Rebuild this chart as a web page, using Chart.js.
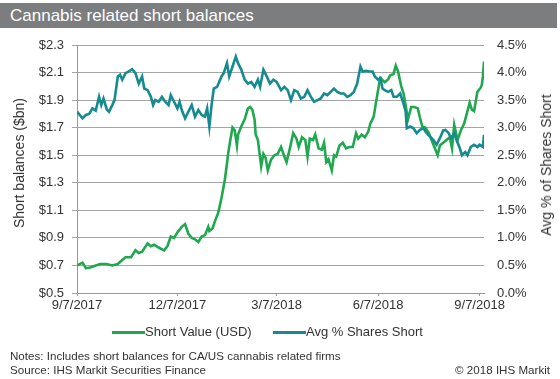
<!DOCTYPE html>
<html><head><meta charset="utf-8">
<script src="https://cdn.jsdelivr.net/npm/chart.js@4.4.1/dist/chart.umd.min.js"></script>
<style>
body{margin:0;background:#fff;}
#wrap{position:relative;width:560px;height:379px;overflow:hidden;background:#fff;font-family:"Liberation Sans",Arial,sans-serif;color:#333;}
#title{position:absolute;left:0;top:3px;width:557px;height:25px;background:#7b7d7f;color:#fff;font-size:17px;line-height:25px;padding-left:10px;box-sizing:border-box;white-space:nowrap;}
canvas{position:absolute;left:0;top:0;}
.rot{position:absolute;white-space:nowrap;font-size:14px;transform:translate(-50%,-50%) rotate(-90deg);color:#333;}
.leg{position:absolute;font-size:13px;line-height:16px;white-space:nowrap;}
.sw{position:absolute;height:3px;}
.note{position:absolute;font-size:11.6px;white-space:nowrap;line-height:14px;}
</style>
</head><body>
<div id="wrap">
<canvas id="c" width="560" height="379"></canvas>
<div id="title">Cannabis related short balances</div>
<div class="rot" style="left:19px;top:163px;">Short balances ($bn)</div>
<div class="rot" style="left:546px;top:165px;">Avg % of Shares Short</div>
<div class="sw" style="left:112px;top:331px;width:33px;background:#1fa84f;"></div>
<div class="leg" style="left:145px;top:324px;">Short Value (USD)</div>
<div class="sw" style="left:273px;top:331px;width:33px;background:#168b8f;"></div>
<div class="leg" style="left:306px;top:324px;">Avg % Shares Short</div>
<div class="note" style="left:10px;top:349px;">Notes: Includes short balances for CA/US cannabis related firms</div>
<div class="note" style="left:10px;top:363px;">Source: IHS Markit Securities Finance</div>
<div class="note" style="right:10px;top:363px;">© 2018 IHS Markit</div>
</div>
<script>
// x values are days since 9/7/2017
const xTickDays = [0, 91, 181, 273, 365];
const xTickLabels = ['9/7/2017', '12/7/2017', '3/7/2018', '6/7/2018', '9/7/2018'];
const leftTicks = [0.5, 0.7, 0.9, 1.1, 1.3, 1.5, 1.7, 1.9, 2.1, 2.3];
const rightTicks = [0, 0.5, 1.0, 1.5, 2.0, 2.5, 3.0, 3.5, 4.0, 4.5];

const shortValueDays = [0,5,8,12,17,21,27,32,37,41,44,49,53,56,59,64,67,70,74,79,82,85,88,91,95,98,101,104,107,110,113,116,119,120,123,125,128,131,134,136,137,139,141,143,145,146,149,152,155,157,159,161,162,164,167,169,171,173,176,179,182,185,188,190,193,196,199,201,204,207,209,211,214,216,219,222,224,226,228,231,233,235,238,241,244,247,250,253,255,258,261,264,266,269,271,274,275,279,282,284,287,289,291,294,296,298,300,303,306,309,311,313,316,319,321,324,327,329,332,335,338,340,342,345,348,351,354,356,358,360,363,366,367,368,369];
const shortValue = [0.70,0.72,0.68,0.685,0.70,0.71,0.71,0.70,0.71,0.74,0.76,0.76,0.81,0.79,0.80,0.86,0.84,0.85,0.83,0.81,0.84,0.91,0.90,0.94,0.98,1.00,0.93,0.90,0.89,0.87,0.91,0.92,0.98,0.95,0.97,1.02,1.08,1.19,1.32,1.44,1.51,1.61,1.70,1.68,1.57,1.65,1.71,1.76,1.84,1.85,1.83,1.76,1.65,1.61,1.42,1.51,1.48,1.39,1.47,1.50,1.51,1.56,1.49,1.45,1.55,1.66,1.62,1.56,1.63,1.61,1.49,1.62,1.61,1.65,1.55,1.54,1.59,1.45,1.47,1.39,1.50,1.49,1.57,1.59,1.55,1.56,1.56,1.66,1.62,1.65,1.63,1.67,1.73,1.78,1.88,2.02,2.06,2.03,2.05,2.08,2.09,2.15,2.11,2.00,1.95,1.86,1.76,1.85,1.85,1.84,1.77,1.71,1.70,1.66,1.62,1.56,1.50,1.57,1.59,1.61,1.63,1.55,1.72,1.61,1.68,1.73,1.82,1.88,1.83,1.82,1.96,1.99,2.01,2.07,2.18];

const avgShortDays = [0,5,8,11,14,17,20,22,24,27,29,32,34,37,39,41,44,47,50,53,56,59,61,64,67,69,71,74,77,80,83,85,88,91,93,95,98,101,104,107,110,113,116,118,120,122,124,127,131,133,136,138,141,144,146,149,152,155,158,161,164,166,169,172,175,178,181,185,188,191,194,197,200,203,206,209,212,215,218,221,224,227,230,233,236,239,242,245,248,251,254,257,259,262,265,268,270,273,275,277,279,282,285,287,290,293,296,298,299,302,305,308,311,314,317,320,323,326,329,332,334,337,339,342,344,347,349,352,354,357,360,363,365,368,369];
const avgShort = [3.29,3.17,3.23,3.25,3.35,3.31,3.56,3.41,3.53,3.33,3.29,3.41,3.50,3.93,3.96,3.87,3.99,4.02,4.06,3.99,3.80,3.93,3.71,3.68,3.56,3.41,3.50,3.47,3.56,3.47,3.41,3.59,3.47,3.35,3.47,3.32,3.17,3.29,3.41,3.20,3.32,3.23,3.20,3.35,3.02,3.41,3.71,3.74,3.93,3.99,4.17,3.93,4.11,4.29,4.17,4.05,3.87,3.80,3.83,3.74,3.87,3.74,4.05,3.93,3.80,3.87,3.83,3.68,3.74,3.68,3.50,3.68,3.65,3.53,3.56,3.68,3.56,3.47,3.50,3.53,3.62,3.59,3.65,3.71,3.65,3.62,3.62,3.56,3.59,3.65,3.80,4.11,4.02,4.03,4.02,4.02,3.93,3.87,3.90,3.71,3.68,3.65,3.68,3.56,3.56,3.62,3.44,3.29,2.99,3.02,2.99,2.90,2.96,2.99,2.90,2.84,2.78,2.69,2.81,2.95,2.96,2.90,2.81,2.90,2.78,2.63,2.50,2.56,2.50,2.65,2.69,2.65,2.69,2.65,2.87];

const GREEN = '#1fa84f';
const TEAL = '#168b8f';
const GRID = '#a6a6a6';
const TXT = '#333333';
const FONT = {family: '"Liberation Sans", Arial, sans-serif', size: 13};

const toPts = (xs, ys) => xs.map((x, i) => ({x: x, y: ys[i]}));

new Chart(document.getElementById('c'), {
  type: 'line',
  data: {
    datasets: [
      {label: 'Avg % Shares Short', data: toPts(avgShortDays, avgShort), yAxisID: 'y2',
       borderColor: TEAL, borderWidth: 2.6, pointRadius: 0, tension: 0, fill: false},
      {label: 'Short Value (USD)', data: toPts(shortValueDays, shortValue), yAxisID: 'y',
       borderColor: GREEN, borderWidth: 2.6, pointRadius: 0, tension: 0, fill: false}
    ]
  },
  options: {
    responsive: false,
    animation: false,
    events: [],
    layout: {padding: {top: 45, left: 0, right: 0, bottom: 0}},
    plugins: {legend: {display: false}, tooltip: {enabled: false}, title: {display: false}},
    scales: {
      x: {
        type: 'linear', min: 0, max: 369,
        afterBuildTicks: s => { s.ticks = xTickDays.map(v => ({value: v})); },
        afterFit: s => { s.height = 86; },
        ticks: {autoSkip: false, maxRotation: 0, color: TXT, font: FONT, padding: 2,
                callback: v => { const i = xTickDays.indexOf(v); return i >= 0 ? xTickLabels[i] : ''; }},
        grid: {drawOnChartArea: false, tickLength: 3, color: '#999'},
        border: {display: true, color: '#999', width: 1}
      },
      y: {
        position: 'left', min: 0.5, max: 2.3,
        afterBuildTicks: s => { s.ticks = leftTicks.map(v => ({value: v})); },
        afterFit: s => { s.width = 77; },
        ticks: {color: TXT, font: FONT, padding: 8, callback: v => '$' + Number(v).toFixed(1)},
        grid: {color: GRID, lineWidth: 1, tickLength: 5},
        border: {display: true, color: '#999', width: 1}
      },
      y2: {
        position: 'right', min: 0, max: 4.5,
        afterBuildTicks: s => { s.ticks = rightTicks.map(v => ({value: v})); },
        afterFit: s => { s.width = 76; },
        ticks: {color: TXT, font: FONT, padding: 13, callback: v => Number(v).toFixed(1) + '%'},
        grid: {drawOnChartArea: false, drawTicks: false},
        border: {display: false}
      }
    }
  }
});
</script>
</body></html>
